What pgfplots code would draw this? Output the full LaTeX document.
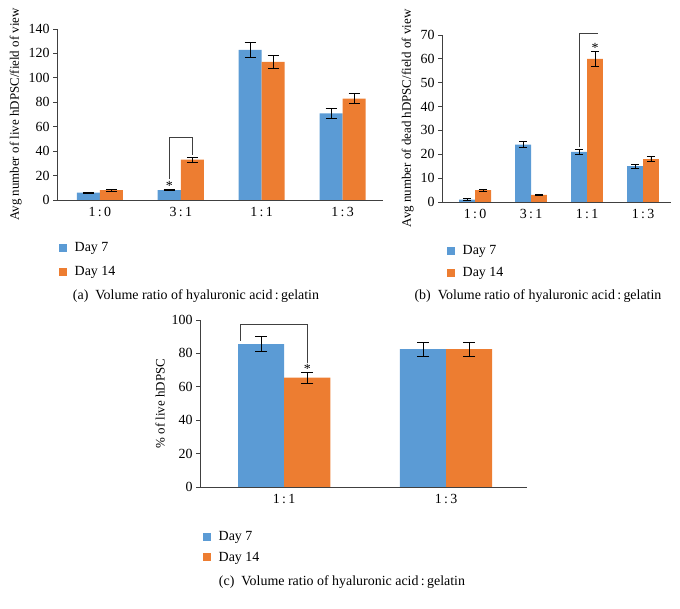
\documentclass[border=0pt]{standalone}
\usepackage{fontspec}
\setmainfont{Liberation Serif}
\usepackage{pgfplots}
\pgfplotsset{compat=1.18}
\definecolor{cblue}{HTML}{5B9BD5}
\definecolor{corange}{HTML}{ED7D31}
\definecolor{axgray}{HTML}{404040}
\newcommand{\fs}{\fontsize{14}{16.5}\selectfont}
\newcommand{\fl}{\fontsize{13}{15.5}\selectfont}

\pgfplotsset{
  mylegend/.style={legend image code/.code={\fill[##1,draw=none] (0bp,-4bp) rectangle (8bp,4bp);}},
  mybar/.style={
    scale only axis, anchor=south west,
    axis x line*=bottom, axis y line*=left,
    axis line style={axgray, line width=0.8bp, -},
    ybar=0pt, bar width=0.285,
    ymin=0,
    major tick length=4bp, tick align=outside,
    ytick style={axgray, line width=0.8bp},
    xtick style={draw=none},
    /pgf/number format/assume math mode=true,
    font=\fs,
    tick label style={font=\fs},
    label style={font=\fl},
    clip=false,
    legend style={draw=none, fill=none, at={(0,0)}, anchor=north west,
      font=\fs, inner sep=0pt,
      nodes={inner sep=1.5bp},
      /tikz/every odd column/.append style={column sep=6bp}},
    legend cell align=left,
  },
  myerr/.style={
    error bars/.cd, y dir=both, y explicit,
    error bar style={black, line width=0.8bp},
    error mark options={black, line width=0.8bp, mark size=#1, rotate=90},
    /pgfplots/.cd,
  },
}

\pgfplotstableread{
x y e
0 6 0.5
1 8 0.5
2 123 6
3 71 3.8
}\liveA
\pgfplotstableread{
x y e
0 8 0.6
1 33 2
2 113 5.6
3 83 4
}\liveB
\pgfplotstableread{
x y e
0 1 0.3
1 24 1.3
2 21 1.2
3 15 0.9
}\deadA
\pgfplotstableread{
x y e
0 5 0.4
1 3 0.3
2 60 3
3 18 1.1
}\deadB
\pgfplotstableread{
x y e
0 85.5 4.4
1 82.5 4.2
}\pctA
\pgfplotstableread{
x y e
0 65.5 3.4
1 82.5 4.2
}\pctB

\begin{document}
\begin{tikzpicture}[x=1bp,y=1bp]
\path[use as bounding box] (0,0) rectangle (680,609);

% (a)
\begin{axis}[mybar, at={(57bp,409bp)}, width=326bp, height=171bp,
  xmin=-0.53, xmax=3.5, ymax=140, ytick={0,20,...,140},
  xtick={0,1,2,3}, xticklabels={{1\,:\,0},{3\,:\,1},{1\,:\,1},{1\,:\,3}},
  ylabel={Avg number of live hDPSC/field of view},
  legend style={xshift=2bp, yshift=-41bp, row sep=10bp}]
\addplot+[fill=cblue, draw=none, mylegend, myerr=5.5bp] table[x=x,y=y,y error=e]{\liveA};
\addplot+[fill=corange, draw=none, mylegend, myerr=5.5bp] table[x=x,y=y,y error=e]{\liveB};
\legend{Day 7, Day 14}
\draw[axgray, line width=0.8bp] (axis cs:0.8575,17) |- (axis cs:1.1425,51.5) -- (axis cs:1.1425,36.5);
\node at (axis cs:0.8575,11.5) {*};
\end{axis}

% (b)
\begin{axis}[mybar, at={(442bp,407bp)}, width=229bp, height=167bp,
  xmin=-0.59, xmax=3.5, ymax=70, ytick={0,10,...,70},
  xtick={0,1,2,3}, xticklabels={{1\,:\,0},{3\,:\,1},{1\,:\,1},{1\,:\,3}},
  ylabel={Avg number of dead hDPSC/field of view},
  legend style={xshift=5bp, yshift=-42bp, row sep=8bp}]
\addplot+[fill=cblue, draw=none, mylegend, myerr=4bp] table[x=x,y=y,y error=e]{\deadA};
\addplot+[fill=corange, draw=none, mylegend, myerr=4bp] table[x=x,y=y,y error=e]{\deadB};
\legend{Day 7, Day 14}
\draw[axgray, line width=0.8bp] (axis cs:1.8575,23) |- (axis cs:2.2,70.8);
\node at (axis cs:2.1425,64.5) {*};
\end{axis}

% (c)
\begin{axis}[mybar, at={(200bp,122bp)}, width=327bp, height=167bp,
  xmin=-0.52, xmax=1.5, ymax=100, ytick={0,20,...,100},
  xtick={0,1}, xticklabels={{1\,:\,1},{1\,:\,3}},
  ylabel={\% of live hDPSC},
  legend style={xshift=3bp, yshift=-43bp, row sep=6.5bp}]
\addplot+[fill=cblue, draw=none, mylegend, myerr=6bp] table[x=x,y=y,y error=e]{\pctA};
\addplot+[fill=corange, draw=none, mylegend, myerr=6bp] table[x=x,y=y,y error=e]{\pctB};
\legend{Day 7, Day 14}
\draw[axgray, line width=0.8bp] (axis cs:-0.27,87.5) |- (axis cs:0.1425,97.6) -- (axis cs:0.1425,74);
\node at (axis cs:0.1425,70.5) {*};
\end{axis}

\node[font=\fs] at (196,313) {(a)\enspace Volume ratio of hyaluronic acid\,:\,gelatin};
\node[font=\fs] at (538,313) {(b)\enspace Volume ratio of hyaluronic acid\,:\,gelatin};
\node[font=\fs] at (342,27) {(c)\enspace Volume ratio of hyaluronic acid\,:\,gelatin};
\end{tikzpicture}
\end{document}
